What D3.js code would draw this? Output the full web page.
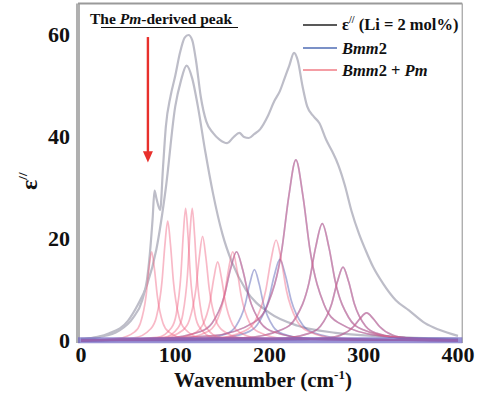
<!DOCTYPE html>
<html>
<head>
<meta charset="utf-8">
<script src="https://cdn.jsdelivr.net/npm/d3@7"></script>
<style>
  body { margin: 0; background: #fff; }
  svg text { font-family: "Liberation Serif", "DejaVu Serif", "Times New Roman", serif; font-weight: bold; fill: #111; }
</style>
</head>
<body>
<svg id="chart" width="480" height="394"></svg>
<script>
// axis ticks
const xTicks = [0, 100, 200, 300, 400];
const yTicks = [0, 20, 40, 60];

const epsMeasured = [[0,0.4],[20,0.8],[40,2],[55,4.5],[65,8],[70,12],[73,17],[76,24],[78,29.5],[80,28],[84,25.7],[87,34],[90,42],[95,48],[100,52],[105,56.5],[110,59.5],[114,60],[118,59],[122,55],[127,48],[133,43],[140,40.8],[147,39.5],[155,38.8],[162,40],[168,40.8],[173,40],[178,39.8],[184,40.6],[190,41.5],[198,44],[205,47],[211,49],[216,51.5],[221,54],[226,56.5],[230,55],[235,50],[240,46],[247,44],[253,42.7],[260,39.5],[267,37],[273,34.5],[280,30.5],[287,25.5],[295,21],[302,17.8],[310,14.5],[320,11.4],[334,8],[348,6],[365,3.5],[380,2.2],[400,1]];

// big low-frequency mode (grey)
const mainMode = [[0,0.3],[30,1.5],[50,4],[60,7],[70,11],[80,18],[90,30],[100,46],[106,51],[112,54],[118,51.5],[124,46],[132,37],[140,29],[150,21],[160,15.5],[175,10],[200,5.5],[230,3],[270,1.6],[320,0.9],[400,0.4]];

// modes only in the Bmm2 + Pm fit (red)
const pmPeaks = [
  [[0,0.1],[39,0.5],[57,1.8],[63,3.5],[69,8.8],[72,14],[75,17.5],[78,14],[81,8.8],[87,3.5],[93,1.8],[111,0.5],[400,0.1]],
  [[0,0.1],[56,0.6],[74,2.4],[80,4.7],[86,11.8],[89,18.8],[92,23.5],[95,18.8],[98,11.8],[104,4.7],[110,2.4],[128,0.6],[400,0.1]],
  [[0,0.1],[81,0.7],[96,2.6],[101,5.2],[106,13],[108.5,20.8],[111,26],[113.5,20.8],[116,13],[121,5.2],[126,2.6],[141,0.7],[400,0.1]],
  [[0,0.1],[88,0.7],[103,2.6],[108,5.2],[113,13],[115.5,20.8],[118,26],[120.5,20.8],[123,13],[128,5.2],[133,2.6],[148,0.7],[400,0.1]],
  [[0,0.1],[87,0.6],[108,2.1],[115,4.1],[122,10.3],[125.5,16.4],[129,20.5],[132.5,16.4],[136,10.3],[143,4.1],[150,2.1],[171,0.6],[400,0.1]],
  [[0,0.1],[97,0.4],[121,1.6],[129,3.1],[137,7.8],[141,12.4],[145,15.5],[149,12.4],[153,7.8],[161,3.1],[169,1.6],[193,0.4],[400,0.1]],
  [[0,0.1],[107,0.5],[134,1.8],[143,3.5],[152,8.8],[156.5,14],[161,17.5],[165.5,14],[170,8.8],[179,3.5],[188,1.8],[215,0.5],[400,0.1]],
  [[0,0.1],[141,0.5],[174,2],[185,4],[196,9.9],[201.5,15.8],[207,19.8],[212.5,15.8],[218,9.9],[229,4],[240,2],[273,0.5],[400,0.1]]
];

// modes common to both fits (blue + red)
const sharedPeaks = [
  [[0,0.1],[87,0.5],[126,1.8],[139,3.5],[152,8.8],[158.5,14],[165,17.5],[171.5,14],[178,8.8],[191,3.5],[204,1.8],[243,0.5],[400,0.1]],
  [[0,0.1],[138,1],[183,3.6],[198,7.1],[213,17.8],[220.5,28.4],[228,35.5],[235.5,28.4],[243,17.8],[258,7.1],[273,3.6],[318,1],[400,0.2]],
  [[0,0.1],[172,0.6],[214,2.3],[228,4.6],[242,11.5],[249,18.4],[256,23],[263,18.4],[270,11.5],[284,4.6],[298,2.3],[340,0.6],[400,0.2]],
  [[0,0.1],[206,0.4],[242,1.5],[254,2.9],[266,7.3],[272,11.6],[278,14.5],[284,11.6],[290,7.3],[302,2.9],[314,1.5],[350,0.4],[400,0.1]],
  [[0,0.1],[219,0.2],[261,0.6],[275,1.1],[289,2.8],[296,4.4],[303,5.5],[310,4.4],[317,2.8],[331,1.1],[345,0.6],[387,0.2],[400,0.1]]
];

// modes only in the Bmm2 fit (blue)
const bmmPeaks = [
  [[0,0.1],[124,0.4],[154,1.4],[164,2.8],[174,7],[179,11.2],[184,14],[189,11.2],[194,7],[204,2.8],[214,1.4],[244,0.4],[400,0.1]],
  [[0,0.1],[139,0.4],[175,1.6],[187,3.2],[199,8],[205,12.8],[211,16],[217,12.8],[223,8],[235,3.2],[247,1.6],[283,0.4],[400,0.1]]
];

const legendItems = ['eps', 'Bmm2', 'Bmm2 + Pm'];

const svg = d3.select('#chart');
const x = d3.scaleLinear().domain([0, 400]).range([81, 458]);
const y = d3.scaleLinear().domain([0, 60]).range([341, 35]);

const greyCol = '#bdbdc8';
const blueCol = 'rgba(75, 85, 175, 0.45)';
const redCol = 'rgba(240, 100, 130, 0.45)';

const line = d3.line()
  .x(d => x(d[0]))
  .y(d => y(d[1]))
  .curve(d3.curveMonotoneX);

// frame
svg.append('line').attr('x1', x(-3.2)).attr('x2', x(-3.2)).attr('y1', y(66.2)).attr('y2', y(-0.4))
  .attr('stroke', '#b0b0b0').attr('stroke-width', 4);
svg.append('line').attr('x1', x(-3.2)).attr('x2', x(404.5)).attr('y1', y(66.2)).attr('y2', y(66.2))
  .attr('stroke', '#9a9a9a').attr('stroke-width', 2);
svg.append('line').attr('x1', x(404.5)).attr('x2', x(404.5)).attr('y1', y(66.2)).attr('y2', y(-0.4))
  .attr('stroke', '#a0a0a0').attr('stroke-width', 1.2);

// curves
const g = svg.append('g');
g.append('path').datum(mainMode).attr('d', line)
  .attr('fill', 'none').attr('stroke', greyCol).attr('stroke-width', 2.2);
g.append('path').datum(epsMeasured).attr('d', line)
  .attr('fill', 'none').attr('stroke', greyCol).attr('stroke-width', 2.2);

g.selectAll('.bmm').data(sharedPeaks.concat(bmmPeaks)).enter()
  .append('path').attr('class', 'bmm').attr('d', line)
  .attr('fill', 'none').attr('stroke', blueCol).attr('stroke-width', 1.7);

g.selectAll('.pm').data(sharedPeaks.concat(pmPeaks)).enter()
  .append('path').attr('class', 'pm').attr('d', line)
  .attr('fill', 'none').attr('stroke', redCol).attr('stroke-width', 1.7);

// bottom band where all the tails pile up
svg.append('line').attr('x1', x(-3.2)).attr('x2', x(404.5)).attr('y1', y(0.15)).attr('y2', y(0.15))
  .attr('stroke', 'rgba(110, 100, 195, 0.7)').attr('stroke-width', 6);

// ticks
svg.selectAll('.ylab').data(yTicks).enter().append('text')
  .attr('x', 70).attr('y', d => y(d)).attr('dy', '0.3em')
  .attr('text-anchor', 'end').style('font-size', '22px').text(d => d);

svg.selectAll('.xlab').data(xTicks).enter().append('text')
  .attr('x', d => x(d)).attr('y', 362)
  .attr('text-anchor', 'middle').style('font-size', '22px').text(d => d);

// axis titles
const xt = svg.append('text').attr('x', 263).attr('y', 387).attr('text-anchor', 'middle').style('font-size', '21px');
xt.append('tspan').text('Wavenumber (cm');
xt.append('tspan').attr('dy', -8).style('font-size', '13px').text('-1');
xt.append('tspan').attr('dy', 8).text(')');

const yt = svg.append('text').attr('transform', 'translate(37,190) rotate(-90)').style('font-size', '24px');
yt.append('tspan').text('ε');
yt.append('tspan').attr('dy', -10).style('font-size', '13px').text('//');

// annotation
const ann = svg.append('text').attr('x', 90).attr('y', 24).style('font-size', '15.5px');
ann.append('tspan').text('The ');
ann.append('tspan').style('font-style', 'italic').text('Pm');
ann.append('tspan').text('-derived peak');
svg.append('line').attr('x1', 101).attr('x2', 238).attr('y1', 27.5).attr('y2', 27.5)
  .attr('stroke', '#111').attr('stroke-width', 1.2);

svg.append('line').attr('x1', x(71)).attr('x2', x(71)).attr('y1', y(59.6)).attr('y2', y(36.5))
  .attr('stroke', '#e8302c').attr('stroke-width', 2.4);
svg.append('path')
  .attr('d', `M${x(71) - 5},${y(37.2)} L${x(71) + 5},${y(37.2)} L${x(71)},${y(35)} Z`)
  .attr('fill', '#e8302c');

// legend
const legColors = ['#222', '#4f6db5', '#f07c86'];
const lg = svg.append('g');
legendItems.forEach((d, i) => {
  const ly = [25, 48, 70][i];
  lg.append('line').attr('x1', 303).attr('x2', 337).attr('y1', ly).attr('y2', ly)
    .attr('stroke', legColors[i]).attr('stroke-width', 1.5);
});
const t0 = lg.append('text').attr('x', 342).attr('y', 30).style('font-size', '16.5px');
t0.append('tspan').text('ε');
t0.append('tspan').attr('dy', -7).style('font-size', '10px').text('//');
t0.append('tspan').attr('dy', 7).text(' (Li = 2 mol%)');
const t1 = lg.append('text').attr('x', 342).attr('y', 54).style('font-size', '16.5px');
t1.append('tspan').style('font-style', 'italic').text('Bmm');
t1.append('tspan').text('2');
const t2 = lg.append('text').attr('x', 342).attr('y', 76).style('font-size', '16.5px');
t2.append('tspan').style('font-style', 'italic').text('Bmm');
t2.append('tspan').text('2 + ');
t2.append('tspan').style('font-style', 'italic').text('Pm');
</script>
</body>
</html>
